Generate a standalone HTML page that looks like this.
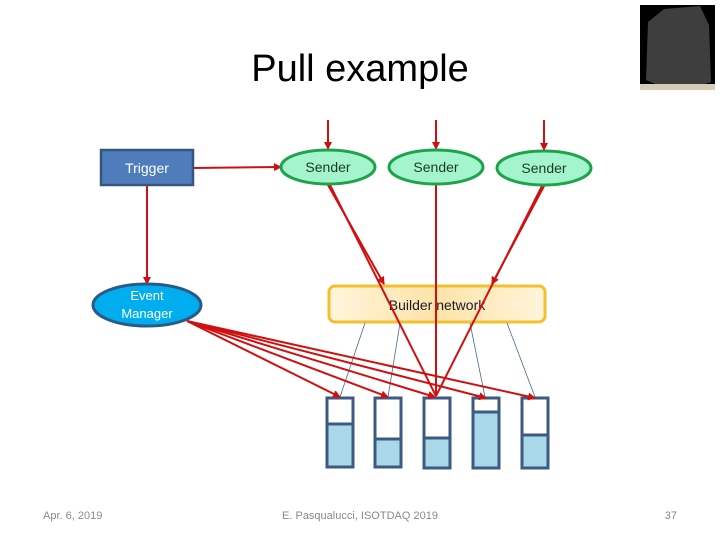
<!DOCTYPE html>
<html><head><meta charset="utf-8"><style>
html,body{margin:0;padding:0;background:#fff;}
svg{display:block;}
</style></head><body>
<svg width="720" height="540" viewBox="0 0 720 540" xmlns="http://www.w3.org/2000/svg">
<defs>
<linearGradient id="bg" x1="0" x2="1" y1="0" y2="0">
<stop offset="0" stop-color="#fff4dc"/><stop offset="0.5" stop-color="#fde3a8"/><stop offset="1" stop-color="#fff4dc"/>
</linearGradient>
<marker id="ar" markerWidth="4" markerHeight="4" refX="3.5" refY="2" orient="auto" markerUnits="strokeWidth"><path d="M0,0 L4,2 L0,4 z" fill="#d01010"/></marker>
</defs>
<text x="360" y="81" font-family="Liberation Sans Narrow, Liberation Sans, sans-serif" font-size="38" text-anchor="middle" fill="#000">Pull example</text>
<rect x="640" y="5" width="75" height="85" fill="#000"/>
<path d="M648,22 L664,9 L700,6 L709,25 L711,82 L700,86 L660,86 L646,80 Z" fill="#3e3e3e"/>
<rect x="640" y="84" width="75" height="6" fill="#d5ccb6"/>

<rect x="329" y="286" width="216" height="36" rx="6" fill="url(#bg)" stroke="#f2c02e" stroke-width="3"/>
<text x="437" y="310" font-family="Liberation Sans, sans-serif" font-size="14" text-anchor="middle" fill="#1a1a2e">Builder network</text>

<g stroke="#4a6a8a" stroke-width="0.8">
<line x1="365" y1="323" x2="340" y2="397"/>
<line x1="400" y1="323" x2="388" y2="397"/>
<line x1="470" y1="323" x2="485" y2="397"/>
<line x1="507" y1="323" x2="535" y2="397"/>
</g>

<g stroke="#3d5a80" stroke-width="3">
<rect x="327" y="398" width="26" height="69" fill="#fff"/><rect x="327" y="424" width="26" height="43" fill="#a9d9e8"/>
<rect x="375" y="398" width="26" height="69" fill="#fff"/><rect x="375" y="439" width="26" height="28" fill="#a9d9e8"/>
<rect x="424" y="398" width="26" height="70" fill="#fff"/><rect x="424" y="438" width="26" height="30" fill="#a9d9e8"/>
<rect x="473" y="398" width="26" height="70" fill="#fff"/><rect x="473" y="412" width="26" height="56" fill="#a9d9e8"/>
<rect x="522" y="398" width="26" height="70" fill="#fff"/><rect x="522" y="435" width="26" height="33" fill="#a9d9e8"/>
</g>

<g stroke="#d01010" stroke-width="2" fill="none">
<line x1="328" y1="120" x2="328" y2="149" marker-end="url(#ar)"/>
<line x1="436" y1="120" x2="436" y2="149" marker-end="url(#ar)"/>
<line x1="544" y1="120" x2="544" y2="150" marker-end="url(#ar)"/>
<line x1="193" y1="168" x2="281" y2="167" marker-end="url(#ar)"/>
<line x1="147" y1="186" x2="147" y2="284" marker-end="url(#ar)"/>
<line x1="328" y1="185" x2="384" y2="284" marker-end="url(#ar)"/>
<line x1="544" y1="186" x2="492" y2="284" marker-end="url(#ar)"/>
<line x1="330" y1="185" x2="436" y2="396"/>
<line x1="436" y1="185" x2="436" y2="396"/>
<line x1="542" y1="186" x2="436" y2="396"/>
<line x1="187" y1="321" x2="340" y2="397" marker-end="url(#ar)"/>
<line x1="187" y1="321" x2="388" y2="397" marker-end="url(#ar)"/>
<line x1="187" y1="321" x2="435" y2="397" marker-end="url(#ar)"/>
<line x1="187" y1="321" x2="486" y2="398" marker-end="url(#ar)"/>
<line x1="187" y1="321" x2="535" y2="398" marker-end="url(#ar)"/>
</g>

<rect x="101" y="150" width="92" height="35" fill="#4f7dbb" stroke="#34567f" stroke-width="2.5"/>
<text x="147" y="173" font-family="Liberation Sans, sans-serif" font-size="14" text-anchor="middle" fill="#fff">Trigger</text>
<g fill="#a4f5cd" stroke="#1ea24a" stroke-width="3">
<ellipse cx="328" cy="167" rx="47" ry="17"/>
<ellipse cx="436" cy="167" rx="47" ry="17"/>
<ellipse cx="544" cy="168" rx="47" ry="17"/>
</g>
<g font-family="Liberation Sans, sans-serif" font-size="14" text-anchor="middle" fill="#1a3a2a">
<text x="328" y="172">Sender</text><text x="436" y="172">Sender</text><text x="544" y="173">Sender</text>
</g>
<ellipse cx="147" cy="305" rx="54" ry="21" fill="#00aeef" stroke="#2a5a8a" stroke-width="3"/>
<text x="147" y="300" font-family="Liberation Sans, sans-serif" font-size="13" text-anchor="middle" fill="#fff">Event</text>
<text x="147" y="318" font-family="Liberation Sans, sans-serif" font-size="13" text-anchor="middle" fill="#fff">Manager</text>

<g font-family="Liberation Sans, sans-serif" font-size="11" fill="#888">
<text x="43" y="519">Apr. 6, 2019</text>
<text x="360" y="519" text-anchor="middle">E. Pasqualucci, ISOTDAQ 2019</text>
<text x="677" y="519" text-anchor="end">37</text>
</g>
</svg>
</body></html>
